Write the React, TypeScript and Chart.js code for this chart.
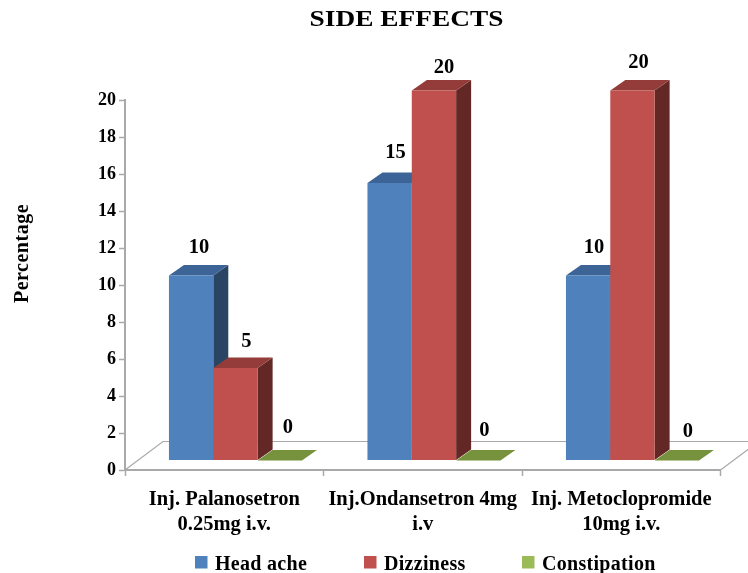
import { useEffect, useRef } from "react";
import { Chart, registerables } from "chart.js";

Chart.register(...registerables);

const categories = [
  ["Inj. Palanosetron", "0.25mg i.v."],
  ["Inj.Ondansetron 4mg", "i.v"],
  ["Inj. Metoclopromide", "10mg i.v."],
];
const headAche = [10, 15, 10];
const dizziness = [5, 20, 20];
const constipation = [0, 0, 0];
const yTicks = [0, 2, 4, 6, 8, 10, 12, 14, 16, 18, 20];

const SERIF = '"Liberation Serif", "Times New Roman", serif';
const AXIS_GREY = "#a9a9a9";

// Face colours of each 3D column: front, top, side.
const faces = [
  { front: "#4f81bd", top: "#3c6496", side: "#2a4564" },
  { front: "#c0504d", top: "#943c3a", side: "#632725" },
  { front: "#9bbb59", top: "#76923c", side: "#4f6228" },
];

// Projection of the 3D box: column front plane and column depth.
const FRONT_DX = 11.2;
const FRONT_DY = -9.4;
const DEPTH_DX = 15;
const DEPTH_DY = -10.7;
const FLOOR_DX = 38;
const FLOOR_DY = -28.5;

// Hand placement of the value labels relative to the column centre and top.
const labelNudges = [
  [[8, -28], [6, -30], [6, -28]],
  [[11, -26], [10, -23], [6, -28]],
  [[8, -33], [6, -30], [11, -29]],
];

const legendSlots = [195, 364, 522];

const polygon = (ctx: CanvasRenderingContext2D, pts: number[][], fill: string) => {
  ctx.fillStyle = fill;
  ctx.beginPath();
  pts.forEach(([x, y], i) => (i ? ctx.lineTo(x, y) : ctx.moveTo(x, y)));
  ctx.closePath();
  ctx.fill();
};

// Floor outline, then the columns left to right so later fronts cover earlier sides.
const columnsPlugin = {
  id: "columns3d",
  beforeDatasetsDraw(chart: any) {
    const { ctx, chartArea: a } = chart;
    ctx.save();
    ctx.strokeStyle = AXIS_GREY;
    ctx.lineWidth = 1.2;
    ctx.beginPath();
    ctx.moveTo(a.left, a.bottom);
    ctx.lineTo(a.left + FLOOR_DX, a.bottom + FLOOR_DY);
    ctx.lineTo(a.right + FLOOR_DX, a.bottom + FLOOR_DY);
    ctx.lineTo(a.right, a.bottom);
    ctx.stroke();
    ctx.restore();

    chart.data.datasets.forEach((_: any, i: number) => {
      const meta = chart.getDatasetMeta(i);
      const look = faces[i];
      ctx.save();
      ctx.translate(FRONT_DX, FRONT_DY);
      meta.data.forEach((bar: any) => {
        const l = bar.x - bar.width / 2;
        const r = bar.x + bar.width / 2;
        const t = bar.y;
        const b = bar.base;
        polygon(ctx, [[r, t], [r + DEPTH_DX, t + DEPTH_DY], [r + DEPTH_DX, b + DEPTH_DY], [r, b]], look.side);
        polygon(ctx, [[l, t], [r, t], [r + DEPTH_DX, t + DEPTH_DY], [l + DEPTH_DX, t + DEPTH_DY]], look.top);
      });
      meta.controller.draw();
      ctx.restore();
    });
    return false;
  },
};

const textPlugin = {
  id: "chartText",
  afterDraw(chart: any) {
    const { ctx, chartArea: a } = chart;
    ctx.save();
    ctx.fillStyle = "#000";
    ctx.textAlign = "center";
    ctx.textBaseline = "middle";

    // Title, set slightly wide
    ctx.save();
    ctx.translate(406.5, 20);
    ctx.scale(1.14, 1);
    ctx.font = `bold 24px ${SERIF}`;
    ctx.fillText("SIDE EFFECTS", 0, 0);
    ctx.restore();

    // Value labels
    ctx.font = `bold 20.5px ${SERIF}`;
    chart.data.datasets.forEach((ds: any, i: number) => {
      chart.getDatasetMeta(i).data.forEach((bar: any, j: number) => {
        const [dx, dy] = labelNudges[i][j];
        ctx.fillText(String(ds.data[j]), bar.x + FRONT_DX + dx, bar.y + FRONT_DY + dy);
      });
    });

    // Vertical axis caption
    ctx.save();
    ctx.translate(23, 253.5);
    ctx.rotate(-Math.PI / 2);
    ctx.font = `bold 20px ${SERIF}`;
    (ctx as any).letterSpacing = "0.5px";
    ctx.fillText("Percentage", 0, 0);
    ctx.restore();

    // Legend row
    ctx.textAlign = "left";
    ctx.font = `bold 20px ${SERIF}`;
    (ctx as any).letterSpacing = "0.3px";
    chart.data.datasets.forEach((ds: any, i: number) => {
      const x = legendSlots[i];
      ctx.fillStyle = faces[i].front;
      ctx.fillRect(x, a.bottom + 86, 12.5, 12.5);
      ctx.fillStyle = "#000";
      ctx.fillText(ds.label, x + 20, a.bottom + 95);
    });
    ctx.restore();
  },
};

export default function App() {
  const ref = useRef<HTMLCanvasElement>(null);

  useEffect(() => {
    const chart = new Chart(ref.current!, {
      type: "bar",
      data: {
        labels: categories,
        datasets: [
          { label: "Head ache", data: headAche, backgroundColor: faces[0].front },
          { label: "Dizziness", data: dizziness, backgroundColor: faces[1].front },
          { label: "Constipation", data: constipation, backgroundColor: faces[2].front },
        ],
      },
      options: {
        responsive: false,
        animation: false,
        datasets: { bar: { categoryPercentage: 0.67, barPercentage: 1, clip: false } },
        layout: { padding: { left: 0, right: 27.5, top: 100, bottom: 0 } },
        plugins: {
          legend: { display: false },
          tooltip: { enabled: false },
          title: { display: false },
        },
        scales: {
          x: {
            afterFit: (s: any) => {
              s.height = 103;
            },
            border: { color: AXIS_GREY, width: 2 },
            grid: { drawOnChartArea: false, color: AXIS_GREY, tickLength: 6, tickWidth: 1.5 },
            ticks: {
              color: "#000",
              autoSkip: false,
              maxRotation: 0,
              padding: 11,
              font: { family: SERIF, size: 20.5, weight: "bold", lineHeight: 1.22 },
            },
          },
          y: {
            min: 0,
            max: 20,
            afterFit: (s: any) => {
              s.width = 125;
            },
            afterBuildTicks: (s: any) => {
              s.ticks = yTicks.map((value) => ({ value }));
            },
            border: { color: AXIS_GREY, width: 2 },
            grid: { drawOnChartArea: false, color: AXIS_GREY, tickLength: 6, tickWidth: 1.5 },
            ticks: {
              color: "#000",
              padding: 3,
              font: { family: SERIF, size: 18, weight: "bold" },
            },
          },
        },
      },
      plugins: [columnsPlugin, textPlugin],
    } as any);
    return () => chart.destroy();
  }, []);

  return (
    <div style={{ position: "fixed", left: 0, top: 0, background: "#fff" }}>
      <canvas ref={ref} width={748} height={573} style={{ display: "block" }} />
    </div>
  );
}
